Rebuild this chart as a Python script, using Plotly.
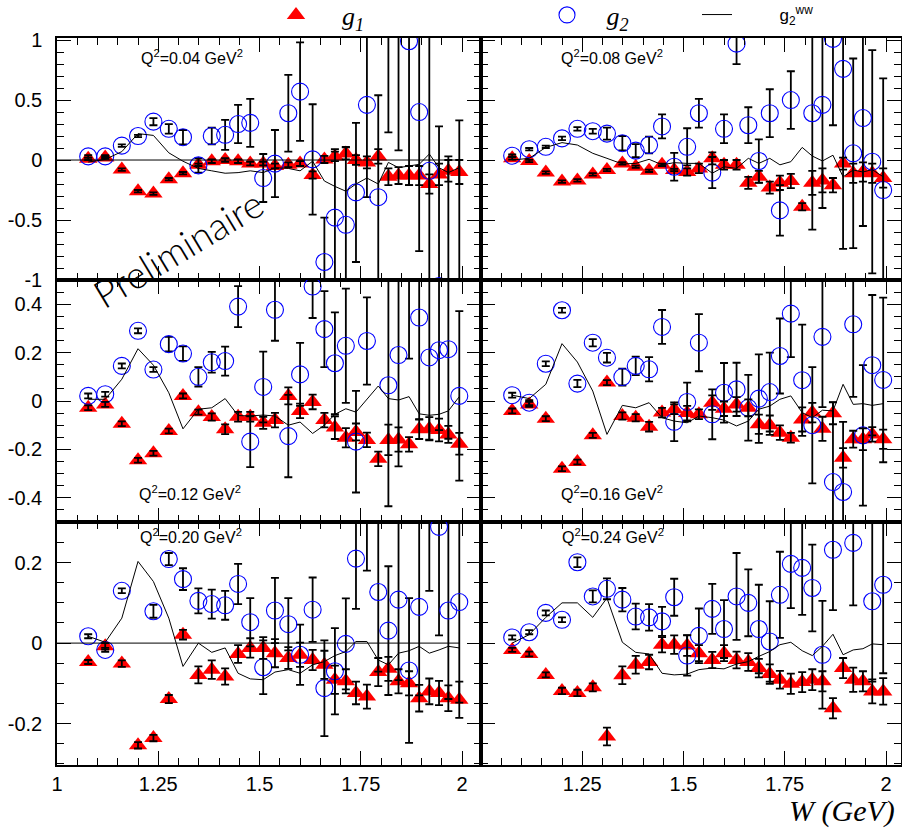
import plotly.graph_objects as go

# ---------------- data ----------------
W = [1.077, 1.119, 1.160, 1.200, 1.238, 1.276, 1.311, 1.349, 1.382, 1.415, 1.447,
     1.477, 1.509, 1.538, 1.571, 1.600, 1.631, 1.660, 1.686, 1.713, 1.738, 1.765,
     1.793, 1.818, 1.843, 1.869, 1.894, 1.919, 1.943, 1.966, 1.993]

Q2_LABELS = ["0.04", "0.08", "0.12", "0.16", "0.20", "0.24"]

# Q2 = 0.04
G1_004 = [0.01, 0.02, -0.08, -0.26, -0.28, -0.16, -0.11, -0.04, -0.01, 0.0, -0.01, -0.03, -0.03,
          -0.05, -0.04, -0.03, -0.125, 0.005, 0.03, 0.055, 0.0, -0.02, 0.03, -0.14, -0.13, -0.13,
          -0.13, -0.2, -0.12, -0.09, -0.1]
G1E_004 = [0.01, 0.01, 0.01, 0.01, 0.01, 0.01, 0.01, 0.01, 0.015, 0.015, 0.015, 0.015, 0.015,
           0.02, 0.02, 0.02, 0.03, 0.03, 0.04, 0.05, 0.04, 0.05, 0.06, 0.07, 0.07, 0.08, 0.08,
           0.08, 0.09, 0.09, 0.1]
G2_004 = [0.03, 0.03, 0.12, 0.20, 0.32, 0.26, 0.19, -0.045, 0.20, 0.21, 0.30, 0.31, -0.15,
          -0.03, 0.39, 0.57, 0.005, -0.85, -0.48, -0.54, -0.27, 0.46, -0.31, 1.30, 1.20, 0.99,
          0.40, -0.09, -1.05, -1.10, -1.20]
G2E_004 = [0.01, 0.01, 0.01, 0.01, 0.03, 0.04, 0.06, 0.06, 0.07, 0.125, 0.16, 0.2, 0.2,
           0.28, 0.32, 0.41, 0.46, 0.37, 0.57, 0.65, 0.58, 0.77, 0.85, 1.07, 1.12, 1.2,
           1.16, 1.3, 1.33, 1.13, 1.53]
WW_004 = [-0.017, 0.005, 0.07, 0.22, 0.205, 0.06, -0.01, -0.07, -0.09, -0.11, -0.105, -0.09,
          -0.105, -0.064, -0.07, -0.09, -0.01, -0.175, -0.22, -0.26, -0.2, -0.15, -0.2, -0.02,
          -0.064, -0.05, -0.036, 0.05, -0.064, -0.105, -0.064]

# Q2 = 0.08
G1_008 = [0.014, -0.008, -0.105, -0.18, -0.17, -0.12, -0.083, -0.028, -0.056, -0.09, -0.04,
          -0.083, -0.1, -0.07, 0.014, -0.04, -0.04, -0.19, -0.14, -0.23, -0.19, -0.175, -0.39,
          -0.19, -0.17, -0.21, -0.03, -0.11, -0.1, -0.11, -0.15]
G1E_008 = [0.01, 0.01, 0.01, 0.01, 0.01, 0.01, 0.01, 0.01, 0.01, 0.01, 0.01, 0.01, 0.03,
           0.04, 0.05, 0.04, 0.04, 0.05, 0.05, 0.05, 0.06, 0.06, 0.03, 0.1, 0.1, 0.06, 0.05,
           0.08, 0.08, 0.08, 0.08]
G2_008 = [0.036, 0.09, 0.11, 0.18, 0.26, 0.24, 0.22, 0.14, 0.078, 0.125, 0.28, -0.056, 0.11,
          0.39, -0.105, 0.26, 0.97, 0.29, -0.008, 0.39, -0.42, 0.5, 1.3, 0.39, 0.46, 1.01,
          0.76, 0.056, 0.35, -0.014, -0.25]
G2E_008 = [0.01, 0.01, 0.01, 0.015, 0.015, 0.02, 0.05, 0.06, 0.055, 0.07, 0.1, 0.115, 0.155,
           0.12, 0.13, 0.12, 0.17, 0.15, 0.18, 0.2, 0.21, 0.24, 0.25, 0.97, 0.86, 0.72, 1.5,
           0.79, 0.9, 0.93, 0.93]
WW_008 = [0.0, 0.014, 0.105, 0.145, 0.125, 0.056, 0.014, -0.033, -0.028, 0.006, -0.04, -0.022,
          -0.028, -0.028, -0.11, -0.056, -0.07, 0.014, -0.028, 0.014, -0.04, -0.014, 0.105,
          0.033, -0.008, 0.04, -0.14, -0.083, -0.1, -0.08, -0.14]

# Q2 = 0.12
G1_012 = [-0.028, -0.014, -0.094, -0.245, -0.216, -0.124, 0.021, -0.046, -0.066, -0.117,
          -0.065, -0.065, -0.09, -0.079, 0.021, -0.041, -0.004, -0.079, -0.11, -0.152,
          -0.128, -0.161, -0.239, -0.161, -0.159, -0.179, -0.117, -0.115, -0.12, -0.138, -0.177]
G1E_012 = [0.01, 0.01, 0.01, 0.01, 0.01, 0.01, 0.01, 0.01, 0.015, 0.02, 0.02, 0.02, 0.025,
           0.03, 0.035, 0.03, 0.03, 0.03, 0.047, 0.04, 0.035, 0.03, 0.03, 0.063, 0.05, 0.03,
           0.04, 0.048, 0.047, 0.035, 0.045]
G2_012 = [0.021, 0.028, 0.145, 0.29, 0.13, 0.235, 0.196, 0.1, 0.16, 0.165, 0.39, -0.168, 0.058,
          0.377, -0.145, 0.11, 0.473, 0.297, 0.156, 0.228, -0.168, 0.248, 0.7, 0.065, 0.19,
          0.62, 0.345, 0.18, 0.21, 0.214, 0.021]
G2E_012 = [0.01, 0.01, 0.01, 0.01, 0.01, 0.03, 0.03, 0.04, 0.043, 0.06, 0.085, 0.105, 0.146,
           0.128, 0.17, 0.13, 0.13, 0.157, 0.21, 0.236, 0.21, 0.18, 0.15, 0.5, 0.46, 0.445,
           0.42, 0.34, 0.33, 0.37, 0.35]
WW_012 = [0.007, 0.007, 0.09, 0.216, 0.148, 0.034, -0.115, -0.034, -0.028, 0.01, -0.06, -0.062,
          -0.058, -0.062, -0.1, -0.087, -0.134, -0.1, -0.055, -0.032, -0.046, 0.007, 0.062,
          0.01, 0.004, 0.018, -0.053, -0.059, -0.055, -0.041, 0.018]

# Q2 = 0.16
G1_016 = [-0.041, -0.014, -0.073, -0.28, -0.252, -0.142, 0.076, -0.062, -0.069, -0.106, -0.048,
          -0.034, -0.05, -0.055, -0.007, -0.032, -0.014, -0.028, -0.096, -0.1, -0.131, -0.152,
          -0.076, -0.048, -0.115, -0.051, -0.235, -0.158, -0.158, -0.138, -0.158]
G1E_016 = [0.01, 0.01, 0.01, 0.01, 0.01, 0.01, 0.01, 0.015, 0.015, 0.02, 0.02, 0.02, 0.03,
           0.02, 0.03, 0.03, 0.03, 0.035, 0.04, 0.04, 0.03, 0.02, 0.05, 0.04, 0.05, 0.045,
           0.04, 0.035, 0.045, 0.03, 0.04]
G2_016 = [0.024, -0.007, 0.154, 0.375, 0.072, 0.241, 0.179, 0.099, 0.145, 0.131, 0.306, -0.086,
          -0.004, 0.241, -0.055, 0.034, 0.048, -0.028, 0.01, 0.037, 0.186, 0.361, 0.086, -0.1,
          0.265, -0.335, -0.376, 0.317, -0.142, 0.148, 0.087]
G2E_016 = [0.01, 0.01, 0.01, 0.01, 0.015, 0.015, 0.02, 0.035, 0.038, 0.05, 0.07, 0.08, 0.08,
           0.118, 0.103, 0.123, 0.11, 0.136, 0.183, 0.163, 0.155, 0.18, 0.23, 0.24, 0.29,
           0.33, 0.29, 0.3, 0.29, 0.29, 0.34]
WW_016 = [0.024, 0.01, 0.069, 0.237, 0.161, 0.041, -0.138, -0.018, -0.028, -0.007, -0.069,
          -0.083, -0.09, -0.062, -0.069, -0.079, -0.103, -0.083, -0.034, -0.021, 0.007, 0.021,
          -0.048, -0.069, -0.038, -0.041, 0.069, -0.014, -0.011, -0.018, -0.011]

# Q2 = 0.20
G1_020 = [-0.047, -0.008, -0.051, -0.254, -0.236, -0.139, 0.021, -0.079, -0.066, -0.083, -0.027,
          -0.012, -0.012, -0.025, -0.037, -0.029, -0.042, -0.054, -0.091, -0.095, -0.124,
          -0.133, -0.072, -0.064, -0.095, -0.1, -0.137, -0.12, -0.124, -0.137, -0.141]
G1E_020 = [0.005, 0.008, 0.008, 0.008, 0.008, 0.01, 0.012, 0.021, 0.023, 0.02, 0.022, 0.024,
           0.027, 0.035, 0.027, 0.03, 0.025, 0.035, 0.035, 0.03, 0.028, 0.03, 0.035, 0.03,
           0.03, 0.03, 0.033, 0.032, 0.03, 0.032, 0.045]
G2_020 = [0.017, -0.017, 0.13, 0.42, 0.079, 0.209, 0.159, 0.105, 0.097, 0.094, 0.147, 0.052,
          -0.06, 0.081, 0.047, -0.029, 0.083, -0.112, -0.07, -0.002, 0.21, 0.4, 0.127, 0.031,
          0.108, -0.068, 0.09, 0.36, 0.289, 0.081, 0.102]
G2E_020 = [0.005, 0.005, 0.006, 0.01, 0.016, 0.015, 0.027, 0.031, 0.036, 0.036, 0.05, 0.06,
           0.067, 0.081, 0.065, 0.075, 0.08, 0.119, 0.107, 0.113, 0.125, 0.22, 0.198, 0.16,
           0.2, 0.18, 0.22, 0.23, 0.27, 0.22, 0.25]
WW_020 = [0.017, 0.002, 0.062, 0.203, 0.153, 0.062, -0.058, 0.0, -0.023, -0.012, -0.075, -0.089,
          -0.091, -0.072, -0.066, -0.075, -0.054, -0.046, -0.031, -0.021, 0.004, 0.004, -0.042,
          -0.054, -0.025, -0.019, -0.008, -0.025, -0.017, -0.008, -0.012]

# Q2 = 0.24
G1_024 = [-0.017, -0.027, -0.079, -0.119, -0.124, -0.11, -0.232, -0.08, -0.054, -0.047, -0.004,
          -0.004, -0.006, -0.025, -0.042, -0.025, -0.042, -0.047, -0.062, -0.077, -0.091, -0.101,
          -0.097, -0.091, -0.095, -0.162, -0.062, -0.091, -0.095, -0.12, -0.12]
G1E_024 = [0.005, 0.006, 0.006, 0.008, 0.008, 0.01, 0.022, 0.022, 0.022, 0.018, 0.019, 0.023,
           0.026, 0.02, 0.02, 0.02, 0.021, 0.022, 0.023, 0.024, 0.022, 0.025, 0.025, 0.026,
           0.025, 0.025, 0.025, 0.03, 0.025, 0.03, 0.033]
G2_024 = [0.014, 0.027, 0.075, 0.058, 0.201, 0.116, 0.135, 0.108, 0.066, 0.064, 0.054, 0.114,
          -0.031, 0.018, 0.085, 0.035, 0.116, 0.1, 0.035, 0.004, 0.12, 0.197, 0.187, 0.137,
          -0.029, 0.232, 0.36, 0.249, 0.36, 0.104, 0.145]
G2E_024 = [0.005, 0.005, 0.006, 0.006, 0.012, 0.015, 0.026, 0.029, 0.032, 0.033, 0.036, 0.046,
           0.05, 0.068, 0.062, 0.072, 0.108, 0.083, 0.11, 0.1, 0.107, 0.11, 0.117, 0.108,
           0.134, 0.15, 0.05, 0.155, 0.05, 0.2, 0.22]
WW_024 = [0.0, 0.021, 0.064, 0.1, 0.1, 0.064, 0.112, 0.002, -0.023, -0.027, -0.075, -0.079,
          -0.077, -0.066, -0.062, -0.064, -0.052, -0.046, -0.033, -0.021, -0.004, 0.002, -0.019,
          -0.031, -0.008, 0.022, -0.029, -0.017, -0.014, -0.002, -0.004]

# axis ticks
X_TICKS = [1, 1.25, 1.5, 1.75, 2]
X_LABELS_LEFT = ["1", "1.25", "1.5", "1.75", "2"]
X_LABELS_RIGHT = ["", "1.25", "1.5", "1.75", "2"]
Y_TICKS_TOP = [-1, -0.5, 0, 0.5, 1]
Y_LABELS_TOP = ["-1", "-0.5", "0", "0.5", "1"]
Y_TICKS_MID = [-0.4, -0.2, 0, 0.2, 0.4]
Y_LABELS_MID = ["-0.4", "-0.2", "0", "0.2", "0.4"]
Y_TICKS_BOT = [-0.2, 0, 0.2]
Y_LABELS_BOT = ["-0.2", "0", "0.2"]

# ---------------- layout geometry (pixels of a 902x834 page) ----------------
FW, FH = 902, 834
COL_PX = [(57, 481), (481, 901)]
ROW_PX = [(38, 280), (280, 522), (522, 765)]
X_RANGES = [(1.0, 2.0466), (1.0, 2.037)]
Y_RANGES = [(-1.0, 1.017), (-0.5, 0.5), (-0.303, 0.301)]
Y_MINOR = [0.1, 0.05, 0.05]
Y_TICKS = [(Y_TICKS_TOP, Y_LABELS_TOP), (Y_TICKS_MID, Y_LABELS_MID), (Y_TICKS_BOT, Y_LABELS_BOT)]

panels = [
    (G1_004, G1E_004, G2_004, G2E_004, WW_004),
    (G1_008, G1E_008, G2_008, G2E_008, WW_008),
    (G1_012, G1E_012, G2_012, G2E_012, WW_012),
    (G1_016, G1E_016, G2_016, G2E_016, WW_016),
    (G1_020, G1E_020, G2_020, G2E_020, WW_020),
    (G1_024, G1E_024, G2_024, G2E_024, WW_024),
]

RED = "#ff0000"
BLUE = "#0000ff"
TICKFONT = dict(family="Liberation Sans, Arial, sans-serif", size=20, color="black")
NB = "\u00a0"

fig = go.Figure()
layout = dict(width=FW, height=FH, margin=dict(l=0, r=0, t=0, b=0, pad=0, autoexpand=False),
              autosize=False, paper_bgcolor="white", plot_bgcolor="white", showlegend=True)

for i, (g1, g1e, g2, g2e, ww) in enumerate(panels):
    row, col = divmod(i, 2)
    sfx = "" if i == 0 else str(i + 1)
    xa, ya = "x" + sfx, "y" + sfx
    first = i == 0

    # g1 triangles
    fig.add_trace(go.Scatter(
        x=W, y=g1, xaxis=xa, yaxis=ya, mode="markers", name=NB * 4 + "<i>g<sub>1</sub></i>",
        marker=dict(symbol="triangle-up", size=16, color=RED, line=dict(width=0)),
        showlegend=first, legend="legend"))
    # g2 circles with errors
    fig.add_trace(go.Scatter(
        x=W, y=g2, xaxis=xa, yaxis=ya, mode="markers", name=NB * 3 + "<i>g<sub>2</sub></i>",
        marker=dict(symbol="circle-open", size=17, color=BLUE, line=dict(width=1.1, color=BLUE)),
        error_y=dict(type="data", array=g2e, visible=True, color="black", thickness=1.8, width=4),
        showlegend=first, legend="legend2"))
    # g1 error bars (drawn above the triangles)
    fig.add_trace(go.Scatter(
        x=W, y=g1, xaxis=xa, yaxis=ya, mode="markers", showlegend=False,
        marker=dict(size=1, color="rgba(0,0,0,0)"),
        error_y=dict(type="data", array=g1e, visible=True, color="black", thickness=1.8, width=4)))
    # g2 WW line
    fig.add_trace(go.Scatter(
        x=W, y=ww, xaxis=xa, yaxis=ya, mode="lines", name=NB * 9 + "g<sub>2</sub><sup>ww</sup>",
        line=dict(color="black", width=1), showlegend=first, legend="legend3"))

    x0, x1 = COL_PX[col]
    y0, y1 = ROW_PX[row]
    tv, tt = Y_TICKS[row]
    layout["xaxis" + sfx] = dict(
        domain=[x0 / FW, x1 / FW], range=list(X_RANGES[col]), anchor=ya,
        showgrid=False, zeroline=False, showline=True, linecolor="black", linewidth=1.5,
        mirror="ticks", ticks="inside", ticklen=14, tickwidth=1.2, tickcolor="black",
        tickmode="array", tickvals=X_TICKS,
        ticktext=X_LABELS_LEFT if col == 0 else X_LABELS_RIGHT,
        showticklabels=(row == 2), tickfont=TICKFONT, automargin=False,
        minor=dict(ticks="inside", ticklen=7, tickwidth=1, tickcolor="black",
                   tickmode="linear", tick0=1, dtick=0.05, showgrid=False))
    layout["yaxis" + sfx] = dict(
        domain=[1 - y1 / FH, 1 - y0 / FH], range=list(Y_RANGES[row]), anchor=xa,
        showgrid=False, zeroline=False, showline=True, linecolor="black", linewidth=1.5,
        mirror="ticks", ticks="inside", ticklen=14, tickwidth=1.2, tickcolor="black",
        tickmode="array", tickvals=tv, ticktext=tt, automargin=False,
        showticklabels=(col == 0), tickfont=TICKFONT, ticklabelstandoff=9,
        minor=dict(ticks="inside", ticklen=7, tickwidth=1, tickcolor="black",
                   tickmode="linear", tick0=0, dtick=Y_MINOR[row], showgrid=False))

# zero reference lines in the Q2=0.04 and Q2=0.20 panels
shapes = []
for sfx in ["", "5"]:
    shapes.append(dict(type="line", xref="x" + sfx, yref="y" + sfx, x0=1.0, x1=W[-1], y0=0, y1=0,
                       line=dict(color="black", width=1)))
layout["shapes"] = shapes

# Q2 labels
Q2_POS = [(192, 57), (612, 57), (190, 493), (612, 493), (191, 536), (613, 536)]
ann = []
for lab, (px, py) in zip(Q2_LABELS, Q2_POS):
    ann.append(dict(text="Q<sup>2</sup>=" + lab + " GeV<sup>2</sup>", xref="paper", yref="paper",
                    x=px / FW, y=1 - py / FH, xanchor="center", yanchor="middle", showarrow=False,
                    font=dict(family="Liberation Sans, Arial, sans-serif", size=16, color="black")))
ann.append(dict(text="Preliminaire", xref="paper", yref="paper", x=178 / FW, y=1 - 248 / FH,
                xanchor="center", yanchor="middle", showarrow=False, textangle=-31,
                font=dict(family="Lato, Liberation Sans, sans-serif", size=38, color="black", weight=300)))
ann.append(dict(text="W (GeV)", xref="paper", yref="paper", x=842 / FW, y=1 - 811 / FH,
                xanchor="center", yanchor="middle", showarrow=False,
                font=dict(family="Liberation Serif, Times New Roman, serif", size=30, color="black",
                          style="italic")))
layout["annotations"] = ann

leg_common = dict(orientation="h", xanchor="left", yanchor="middle", bgcolor="rgba(0,0,0,0)",
                  borderwidth=0, xref="paper", yref="paper")
LEG_Y = 1 - 15 / FH
layout["legend"] = dict(x=276 / FW, y=LEG_Y,
                        font=dict(family="Liberation Serif, serif", size=26, color="black"), **leg_common)
layout["legend2"] = dict(x=547 / FW, y=LEG_Y,
                         font=dict(family="Liberation Serif, serif", size=26, color="black"), **leg_common)
layout["legend3"] = dict(x=697 / FW, y=LEG_Y,
                         font=dict(family="Liberation Sans, sans-serif", size=17, color="black"), **leg_common)

fig.update_layout(**layout)
fig.write_html("out.html", config={"displayModeBar": False},
               post_script="document.body.style.margin='0px';document.body.style.padding='0px';")
